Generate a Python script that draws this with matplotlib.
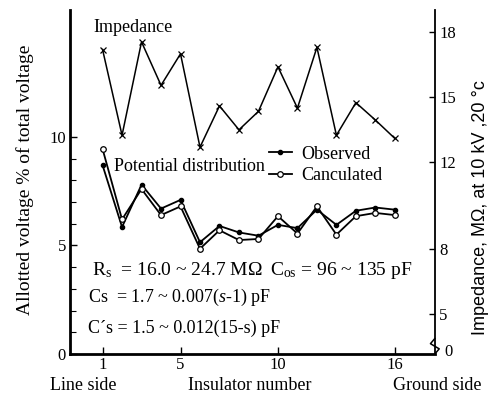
import matplotlib
matplotlib.use("Agg")
import matplotlib.pyplot as plt
from matplotlib.lines import Line2D

plt.rcParams["font.family"] = ["Liberation Serif", "DejaVu Serif"]
plt.rcParams["mathtext.fontset"] = "custom"
plt.rcParams["mathtext.rm"] = "Liberation Serif"
plt.rcParams["mathtext.it"] = "Liberation Serif:italic"

# insulator number, line side -> ground side
insulator = list(range(1, 17))

# allotted voltage, % of total voltage
observed = [8.7, 5.85, 7.8, 6.7, 7.1, 5.15, 5.9, 5.6, 5.45, 5.95, 5.8, 6.65, 5.95, 6.6, 6.75, 6.65]
calculated = [9.45, 6.2, 7.6, 6.4, 6.8, 4.85, 5.7, 5.25, 5.3, 6.35, 5.55, 6.8, 5.5, 6.35, 6.5, 6.4]

# impedance, MOhm at 10 kV, 20 C
impedance = [17.2, 13.25, 17.55, 15.55, 17.0, 12.7, 14.6, 13.5, 14.35, 16.4, 14.5, 17.3, 13.25, 14.75, 13.95, 13.1]

x_ticks = [1, 5, 10, 16]
left_ticks = [0, 5, 10]
right_ticks = [5, 8, 12, 15, 18]

fig = plt.figure(figsize=(4.93, 4.0), dpi=100)
ax = fig.add_axes([0.142, 0.115, 0.740, 0.860])
ax2 = ax.twinx()

ax.plot(insulator, observed, color="black", lw=1.3, marker="o", ms=3,
        mfc="black", mec="black", zorder=3)
ax.plot(insulator, calculated, color="black", lw=1.3, marker="o", ms=4,
        mfc="white", mec="black", mew=0.9, zorder=4)
ax2.plot(insulator, impedance, color="black", lw=1.1, marker="x", ms=4, mew=0.9)

ax.set_xlim(-0.67, 18.05)
ax.set_ylim(0, 15.85)
ax2.set_ylim(3.17, 19.02)

ax.spines["top"].set_visible(False)
ax2.spines["top"].set_visible(False)
ax.spines["right"].set_visible(False)
ax2.spines["left"].set_visible(False)
ax2.spines["bottom"].set_visible(False)
ax.spines["left"].set_linewidth(2)
ax.spines["bottom"].set_linewidth(2)
ax2.spines["right"].set_linewidth(1.3)

ax.set_xticks(x_ticks)
ax.set_xticklabels([str(t) for t in x_ticks], fontsize=12)
ax.set_yticks(left_ticks)
ax.set_yticklabels([str(t) for t in left_ticks], fontsize=12)
ax.set_yticks(range(0, 11), minor=True)
ax.tick_params(axis="both", which="major", direction="in", length=5, width=1, pad=3)
ax.tick_params(axis="y", which="minor", direction="in", length=4, width=0.8)
ax.tick_params(axis="x", pad=2)

ax2.set_yticks(right_ticks)
ax2.set_yticklabels([str(t) for t in right_ticks], fontsize=12)
ax2.tick_params(axis="y", direction="in", length=4, width=1, pad=3)

# axis break and zero on the impedance axis
ax2.plot([1.0, 0.988, 1.012, 1.0], [0.045, 0.03, 0.015, 0.0], color="black",
         lw=1.1, transform=ax2.transAxes, clip_on=False)
ax2.text(1.025, 0.005, "0", transform=ax2.transAxes, fontsize=12, va="center")

# text labels
ax.text(0.063, 0.948, "Impedance", transform=ax.transAxes, fontsize=13, va="center")
ax.text(0.12, 0.544, "Potential distribution", transform=ax.transAxes, fontsize=13, va="center")
ax.text(0.06, 0.244, r"R$_\mathrm{s}$  = 16.0 ~ 24.7 MΩ", transform=ax.transAxes,
        fontsize=14, va="center")
ax.text(0.548, 0.244, r"C$_\mathrm{os}$ = 96 ~ 135 pF", transform=ax.transAxes,
        fontsize=14, va="center")
ax.text(0.049, 0.163, r"Cs  = 1.7 ~ 0.007($s$-1) pF", transform=ax.transAxes,
        fontsize=13, va="center")
ax.text(0.049, 0.076, "C\u00b4s = 1.5 ~ 0.012(15-s) pF", transform=ax.transAxes,
        fontsize=13, va="center")

handles = [
    Line2D([], [], color="black", lw=1.3, marker="o", ms=3, mfc="black"),
    Line2D([], [], color="black", lw=1.3, marker="o", ms=4, mfc="white", mew=0.9),
]
ax.legend(handles, ["Observed", "Canculated"], loc="upper left",
          bbox_to_anchor=(0.52, 0.632), frameon=False, fontsize=13,
          handlelength=1.3, handletextpad=0.5, labelspacing=0.25, borderpad=0)

fig.text(0.051, 0.55, "Allotted voltage % of total voltage", rotation=90,
         fontsize=14, ha="center", va="center")
fig.text(0.974, 0.48, "Impedance, MΩ, at 10 kV ,20 °c", rotation=90,
         fontsize=13, ha="center", va="center", family=["Liberation Sans", "DejaVu Sans"])
fig.text(0.168, 0.0375, "Line side", fontsize=13, ha="center", va="center")
fig.text(0.507, 0.0375, "Insulator number", fontsize=13, ha="center", va="center")
fig.text(0.886, 0.0375, "Ground side", fontsize=13, ha="center", va="center")

fig.savefig("out.png", dpi=100, facecolor="white")
